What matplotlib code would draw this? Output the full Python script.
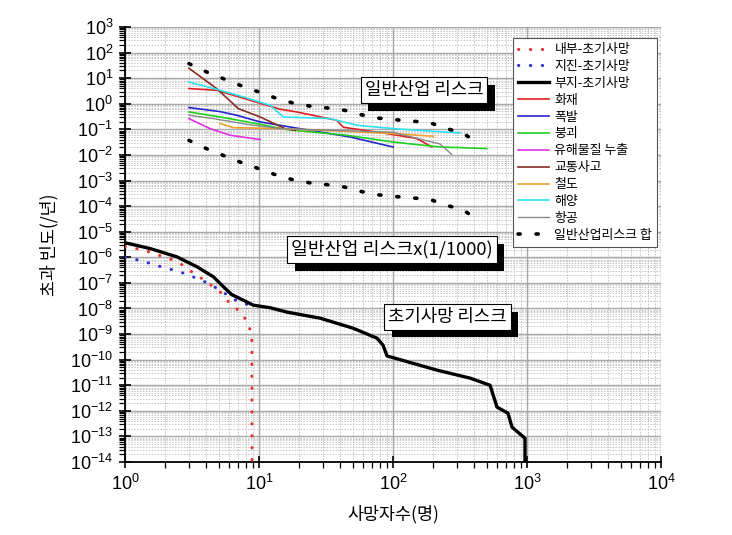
import numpy as np
import matplotlib
matplotlib.use("Agg")
import matplotlib.pyplot as plt
import matplotlib.patheffects as pe
from matplotlib.ticker import LogLocator, FuncFormatter, NullFormatter

plt.rcParams['font.family'] = ['Noto Sans CJK KR', 'DejaVu Sans']
plt.rcParams['mathtext.fontset'] = 'custom'
plt.rcParams['mathtext.rm'] = 'Liberation Sans'
plt.rcParams['mathtext.it'] = 'Liberation Sans:italic'
plt.rcParams['axes.unicode_minus'] = True

# ---------------- data ----------------
# 부지-초기사망 (site early fatality)
site_x = [1.0, 1.54, 2.43, 3.43, 4.56, 5.42, 6.25, 7.64, 9.06, 12.1, 16.2, 28.5, 50.3,
          76, 84.2, 90.2, 141, 213, 376, 530, 597, 721, 773, 966, 966]
site_y = [3.7e-6, 2.2e-6, 1.05e-6, 4.3e-7, 1.74e-7, 7.1e-8, 3.5e-8, 2.1e-8, 1.35e-8,
          1.07e-8, 7.2e-9, 4.2e-9, 1.7e-9, 6.9e-10, 3.7e-10, 1.4e-10, 7.2e-11, 3.9e-11,
          1.9e-11, 1.0e-11, 1.4e-12, 8.1e-13, 2.3e-13, 8.5e-14, 1e-15]
# 내부-초기사망 (internal)
int_x = [1.0, 1.26, 1.54, 1.88, 2.29, 2.65, 3.15, 3.73, 4.31, 5.12, 5.74, 6.62, 7.64,
         8.34, 8.83, 8.87]
int_y = [2.6e-6, 2.1e-6, 1.6e-6, 1.1e-6, 7.8e-7, 5.2e-7, 2.7e-7, 1.5e-7, 8.7e-8, 4.5e-8,
         2.1e-8, 1.15e-8, 5.1e-9, 2.6e-9, 7.8e-10, 1e-15]
# 지진-초기사망 (seismic)
eq_x = [1.0, 1.26, 1.54, 1.88, 2.29, 2.81, 3.33, 3.95, 4.56, 5.26, 6.08, 7.21, 8.57]
eq_y = [9.8e-7, 7.8e-7, 5.8e-7, 4.2e-7, 3.2e-7, 2.3e-7, 1.6e-7, 1.1e-7, 7.4e-8, 4.8e-8,
        2.8e-8, 1.7e-8, 1.35e-8]

# general industry risks
fire_x = [3.0, 4.83, 9.61, 14.4, 19.1, 38.0, 42.6, 89.7, 150, 168, 195]
fire_y = [3.93, 3.37, 1.15, 0.61, 0.48, 0.226, 0.121, 0.0686, 0.044, 0.032, 0.0205]
expl_x = [3.0, 5.12, 6.81, 10.2, 17.0, 47.8, 100]
expl_y = [0.711, 0.495, 0.356, 0.195, 0.124, 0.0505, 0.0205]
coll_x = [3.0, 5.12, 10.2, 16.1, 45, 100, 224, 500]
coll_y = [0.48, 0.305, 0.158, 0.098, 0.059, 0.032, 0.0205, 0.0178]
haz_x = [3.0, 4.31, 6.08, 10.2]
haz_y = [0.264, 0.107, 0.059, 0.040]
traf_x = [3.0, 4.83, 7.0, 10.2, 15.6, 18.6]
traf_y = [24.4, 3.93, 0.65, 0.305, 0.107, 0.092]
rail_x = [5.12, 6.43, 14.4, 45, 100, 200]
rail_y = [0.169, 0.117, 0.107, 0.084, 0.0686, 0.0537]
sea_x = [3.0, 5.12, 7.64, 12.1, 15.2, 33.9, 53.6, 100, 316]
sea_y = [7.1, 3.37, 1.85, 0.873, 0.305, 0.264, 0.145, 0.107, 0.072]
air_x = [3.0, 4.56, 8.1, 14.4, 100, 150, 224, 274]
air_y = [0.356, 0.264, 0.158, 0.107, 0.077, 0.045, 0.027, 0.0106]
# 일반산업리스크 합 (sum)
sum_x = [3.0, 4.07, 5.42, 7.21, 9.61, 13.0, 17.5, 23.7, 32.0, 43.3, 55.7, 75.6, 102,
         138, 187, 252, 331, 429]
sum_y = [37, 17.5, 9.6, 5.3, 3.1, 1.75, 1.11, 0.82, 0.69, 0.56, 0.39, 0.28, 0.24, 0.21,
         0.185, 0.107, 0.072, 0.030]
scale_factor = 1.0 / 1000.0
sum_scaled_y = [v * scale_factor for v in sum_y]

# ---------------- figure ----------------
fig = plt.figure(figsize=(7.32, 5.35), dpi=100)
ax = fig.add_axes([0.1708, 0.1364, 0.7322, 0.8131])
ax.set_xscale('log')
ax.set_yscale('log')
ax.set_xlim(1, 1e4)
ax.set_ylim(1e-14, 1e3)

dot_red = dict(color='#e8322a', lw=2.2, linestyle=(0, (0.1, 3.8)), dash_capstyle='round')
dot_blue = dict(color='#2f2fd0', lw=2.2, linestyle=(0, (0.1, 3.8)), dash_capstyle='round')

ax.plot(int_x, int_y, label='내부-초기사망', zorder=4, **dot_red)
ax.plot(eq_x, eq_y, label='지진-초기사망', zorder=4, **dot_blue)
ax.plot(site_x, site_y, color='black', lw=2.4, label='부지-초기사망', zorder=5)
ax.plot(fire_x, fire_y, color='#e02020', lw=1.2, label='화재', zorder=4)
ax.plot(expl_x, expl_y, color='#2525cc', lw=1.2, label='폭발', zorder=4)
ax.plot(coll_x, coll_y, color='#22d022', lw=1.2, label='붕괴', zorder=4)
ax.plot(haz_x, haz_y, color='#e030e0', lw=1.2, label='유해물질 누출', zorder=4)
ax.plot(traf_x, traf_y, color='#8a2a22', lw=1.2, label='교통사고', zorder=4)
ax.plot(rail_x, rail_y, color='#f0a030', lw=1.2, label='철도', zorder=4)
ax.plot(sea_x, sea_y, color='#30e0f0', lw=1.2, label='해양', zorder=4)
ax.plot(air_x, air_y, color='#888888', lw=1.0, label='항공', zorder=4)
dot_sum = dict(color='black', lw=2.6, linestyle=(0, (0.6, 4.4)), dash_capstyle='round')
ax.plot(sum_x, sum_y, label='일반산업리스크 합', zorder=4, **dot_sum)
ax.plot(sum_x, sum_scaled_y, label='_nolegend_', zorder=4, **dot_sum)

# ticks
ax.xaxis.set_major_locator(LogLocator(base=10, numticks=20))
ax.yaxis.set_major_locator(LogLocator(base=10, numticks=40))
ax.xaxis.set_minor_locator(LogLocator(base=10, subs=np.arange(2, 10), numticks=100))
ax.yaxis.set_minor_locator(LogLocator(base=10, subs=np.arange(2, 10), numticks=200))
fmt = FuncFormatter(lambda v, p: r'$10^{%d}$' % int(round(np.log10(v))))
ax.xaxis.set_major_formatter(fmt)
ax.yaxis.set_major_formatter(fmt)
ax.xaxis.set_minor_formatter(NullFormatter())
ax.yaxis.set_minor_formatter(NullFormatter())
ax.tick_params(which='major', direction='inout', length=9, width=1.2, labelsize=13, pad=4)
ax.tick_params(which='minor', direction='out', length=4, width=0.9)

for s in ['top', 'right']:
    ax.spines[s].set_visible(False)
for s in ['left', 'bottom']:
    ax.spines[s].set_linewidth(1.3)

ax.set_axisbelow(True)
ax.grid(which='major', color='#a8a8a8', lw=1.0, ls='-')
ax.grid(which='minor', color='#c4c4c4', lw=0.7, ls=(0, (1.5, 1.5)))

ax.set_xlabel('사망자수(명)', fontsize=12.5, labelpad=8)
ax.set_ylabel('초과 빈도(/년)', fontsize=12.5, labelpad=8)


def shadow_label(x, y, s, size):
    t = ax.annotate(s, xy=(x, y), xycoords='data', ha='center', va='center',
                    fontsize=size, color='black', zorder=7,
                    bbox=dict(boxstyle='square,pad=0.22', fc='white', ec='black', lw=0.8))
    t.get_bbox_patch().set_path_effects([
        pe.SimplePatchShadow(offset=(5.5, -5.5), shadow_rgbFace='black', alpha=1.0),
        pe.Normal()])
    return t


shadow_label(170, 3.4, '일반산업 리스크', 12.8)
shadow_label(98, 2.0e-6, '일반산업 리스크x(1/1000)', 13.2)
shadow_label(255, 4.7e-9, '초기사망 리스크', 12.8)

leg = ax.legend(loc='upper left', bbox_to_anchor=(0.724, 0.975), fontsize=9.3,
                frameon=True, fancybox=False, edgecolor='#555555', framealpha=1,
                handlelength=2.4, handletextpad=0.4, labelspacing=0.3, borderpad=0.4,
                borderaxespad=0)
leg.get_frame().set_linewidth(0.8)
leg.set_zorder(10)

fig.savefig('out.png', dpi=100)
